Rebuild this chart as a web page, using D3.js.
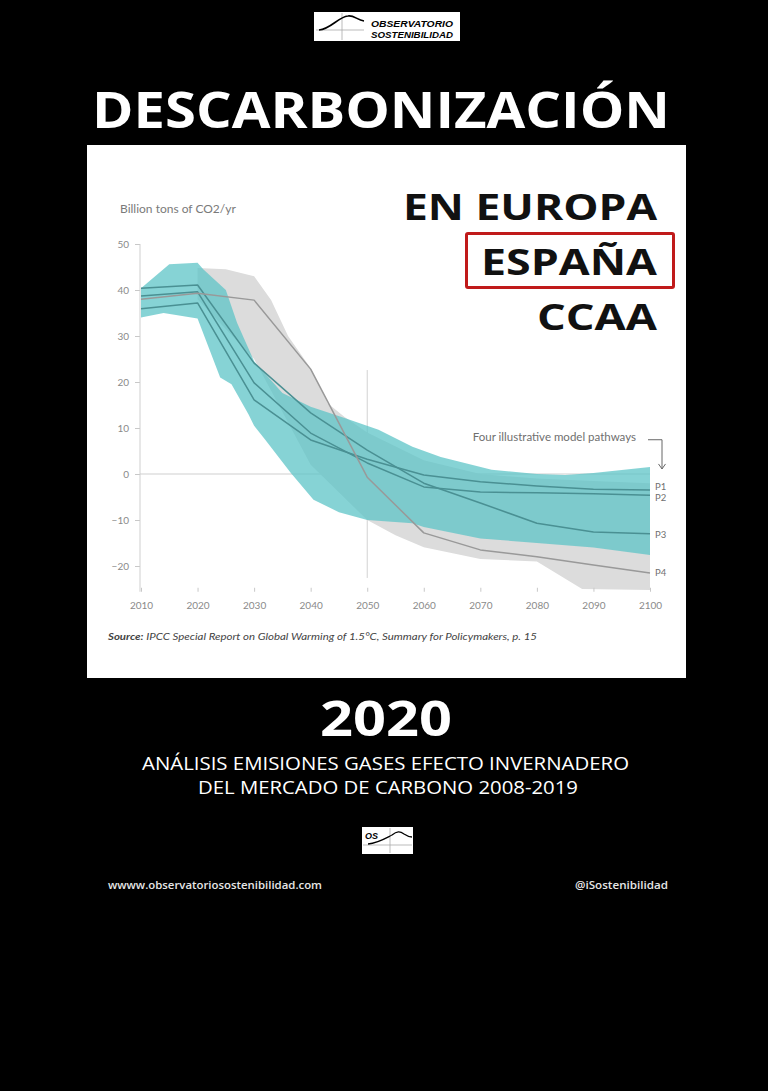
<!DOCTYPE html>
<html>
<head>
<meta charset="utf-8">
<script src="https://cdn.jsdelivr.net/npm/d3@7"></script>
<style>
  html, body { margin: 0; padding: 0; background: #000; }
  svg { display: block; }
</style>
</head>
<body>
<svg id="c" width="768" height="1091"></svg>
<script>
// ---------- DATA ----------
const xTickYears = [2010, 2020, 2030, 2040, 2050, 2060, 2070, 2080, 2090, 2100];
const yTickValues = [50, 40, 30, 20, 10, 0, -10, -20];

const pathwayYears = [2010, 2020, 2030, 2040, 2050, 2060, 2070, 2080, 2090, 2100];
const P1 = [35.9, 37.2, 16.1, 7.4, 3.2, -0.2, -1.7, -2.6, -3.3, -3.5];
const P2 = [38.7, 39.6, 19.8, 8.9, 2.4, -2.8, -3.9, -4.1, -4.3, -4.6];
const P3 = [40.4, 41.1, 24.1, 13.3, 5.2, -2.0, -6.3, -10.7, -12.6, -13.0];
const P4 = [38.0, 39.3, 37.8, 22.8, -0.7, -12.8, -16.5, -18.0, -19.8, -21.5];
const pathwayNames = ["P1", "P2", "P3", "P4"];

// teal range (pathways with no or limited overshoot)
const tealUpper = [[2010,40.4],[2015,45.6],[2020,45.9],[2021,44.5],[2025,40],[2027,32.8],[2030,24.5],[2035,17.6],[2040,14.6],[2046,12.2],[2052,9.6],[2058,5.9],[2063,3.7],[2072,0.9],[2080,0],[2085,-0.2],[2090,0.2],[2100,1.5]];
const tealLower = [[2010,34],[2014,35],[2020,33.8],[2024,21],[2026,19.5],[2029,13],[2030,10.5],[2032,7.4],[2036.5,0.2],[2040.5,-5.6],[2045,-8.3],[2050,-10],[2058,-10.7],[2060,-11.5],[2070,-14],[2080,-15],[2090,-16],[2100,-17.6]];
// grey range (pathways with higher overshoot)
const greyUpper = [[2020,44.8],[2025,44.5],[2030,43],[2033,37.8],[2036,30],[2040,23],[2043,15.4],[2046,12.4],[2050,9],[2060,3],[2070,0],[2080,-1],[2090,-1.5],[2100,-2]];
const greyLower = [[2020,38],[2030,25],[2040,2],[2050,-10],[2055,-13.3],[2060,-15.9],[2070,-18.5],[2080,-19],[2088,-25],[2100,-25.2]];

// ---------- DRAW ----------
const svg = d3.select("#c");
svg.append("rect").attr("width", 768).attr("height", 1091).attr("fill", "#000");

// top logo
const logo = svg.append("g");
logo.append("rect").attr("x", 314).attr("y", 12).attr("width", 146).attr("height", 29).attr("fill", "#fff");
logo.append("line").attr("x1", 342).attr("x2", 342).attr("y1", 13).attr("y2", 40).attr("stroke", "#aaa").attr("stroke-width", 0.8);
logo.append("line").attr("x1", 316).attr("x2", 364).attr("y1", 30).attr("y2", 30).attr("stroke", "#aaa").attr("stroke-width", 0.8);
logo.append("path").attr("d", "M319,30 C331,29 338,17 348,16 C354,15 357,20 364,21").attr("fill", "none").attr("stroke", "#000").attr("stroke-width", 1.6);
logo.append("text").attr("x", 371).attr("y", 27).attr("textLength", 82).attr("lengthAdjust", "spacingAndGlyphs")
  .attr("font-family", "Liberation Sans, Arial").attr("font-weight", 700).attr("font-style", "italic").attr("font-size", 9.5).attr("fill", "#000").text("OBSERVATORIO");
logo.append("text").attr("x", 371).attr("y", 37.5).attr("textLength", 82).attr("lengthAdjust", "spacingAndGlyphs")
  .attr("font-family", "Liberation Sans, Arial").attr("font-weight", 700).attr("font-style", "italic").attr("font-size", 9.5).attr("fill", "#000").text("SOSTENIBILIDAD");

// main title
svg.append("text").attr("x", 92).attr("y", 128).attr("textLength", 578).attr("lengthAdjust", "spacingAndGlyphs")
  .attr("font-family", "Open Sans").attr("font-weight", 700).attr("font-size", 50).attr("fill", "#fff").text("DESCARBONIZACIÓN");

// white panel
svg.append("rect").attr("x", 87).attr("y", 145).attr("width", 599).attr("height", 533).attr("fill", "#fff");

const x = d3.scaleLinear().domain([2010, 2100]).range([141, 650]);
const y = d3.scaleLinear().domain([-20, 50]).range([566, 244]);
const axisX = 140;
const yAxisBottom = -25.6;

const chart = svg.append("g");

// reference lines (under bands)
chart.append("line").attr("x1", axisX).attr("x2", x(2100)).attr("y1", y(0)).attr("y2", y(0)).attr("stroke", "#cfcfcf").attr("stroke-width", 1.2);
chart.append("line").attr("x1", x(2050)).attr("x2", x(2050)).attr("y1", y(22.6)).attr("y2", y(-22.6)).attr("stroke", "#d2d2d2").attr("stroke-width", 1);

// bands
const ln = d3.line().x(d => x(d[0])).y(d => y(d[1]));
function band(upper, lower) { return ln(upper.concat(lower.slice().reverse())) + "Z"; }
chart.append("path").attr("d", band(greyUpper, greyLower)).attr("fill", "#dcdcdc");
chart.append("path").attr("d", band(tealUpper, tealLower)).attr("fill", "rgb(92,195,198)").attr("fill-opacity", 0.74);

// pathway lines
const series = [P1, P2, P3, P4];
const lineColors = ["#4a9093", "#4a9093", "#4a9093", "#999999"];
const pl = d3.line().x((d, i) => x(pathwayYears[i])).y(d => y(d));
series.forEach((s, k) => {
  chart.append("path").attr("d", pl(s)).attr("fill", "none").attr("stroke", lineColors[k]).attr("stroke-width", 1.5).attr("stroke-linejoin", "round");
});

// y axis
const yAx = d3.axisLeft(y).tickValues(yTickValues).tickSize(5).tickPadding(6).tickFormat(d3.format("d"));
const gy = chart.append("g").attr("transform", `translate(${axisX},0)`).call(yAx);
gy.select(".domain").remove();
gy.selectAll("line").attr("stroke", "#c8c8c8");
gy.selectAll("text").attr("fill", "#8a8a8a").attr("font-family", "Lato").attr("font-size", 10);
chart.append("line").attr("x1", axisX).attr("x2", axisX).attr("y1", y(50)).attr("y2", y(yAxisBottom)).attr("stroke", "#cfcfcf").attr("stroke-width", 1);

// x axis
const xAx = d3.axisBottom(x).tickValues(xTickYears).tickSize(4).tickPadding(10).tickFormat(d3.format("d"));
const gx = chart.append("g").attr("transform", `translate(0,${y(yAxisBottom) - 4})`).call(xAx);
gx.select(".domain").remove();
gx.selectAll("line").attr("stroke", "#c8c8c8");
gx.selectAll("text").attr("fill", "#8a8a8a").attr("font-family", "Lato").attr("font-size", 10);

// axis title
chart.append("text").attr("x", 120).attr("y", 213).attr("font-family", "Lato").attr("font-size", 12).attr("fill", "#7a7a7a").text("Billion tons of CO2/yr");

// pathway labels
const labelOffsets = [-3.5, 2.5, 0.5, 0];
series.forEach((s, k) => {
  chart.append("text").attr("x", x(2100) + 5).attr("y", y(s[s.length - 1]) + labelOffsets[k]).attr("dy", "0.35em")
    .attr("font-family", "Lato").attr("font-size", 9.5).attr("fill", "#6f6f6f").text(pathwayNames[k]);
});

// annotation
const annY = y(8.1);
chart.append("text").attr("x", 636).attr("y", annY).attr("dy", "0.35em").attr("text-anchor", "end")
  .attr("font-family", "Lato").attr("font-size", 11.5).attr("fill", "#6f6f6f").text("Four illustrative model pathways");
const axr = x(2100) + 12;
chart.append("path").attr("d", `M${x(2100) - 2},${annY + 3} H${axr} V${y(1.1)}`).attr("fill", "none").attr("stroke", "#666").attr("stroke-width", 1);
chart.append("path").attr("d", `M${axr - 3.5},${y(1.1) - 5} L${axr},${y(1.1)} L${axr + 3.5},${y(1.1) - 5}`).attr("fill", "none").attr("stroke", "#666").attr("stroke-width", 1);

// source
const src = chart.append("text").attr("x", 108).attr("y", 640).attr("textLength", 429).attr("lengthAdjust", "spacingAndGlyphs")
  .attr("font-family", "Lato").attr("font-size", 10).attr("fill", "#444").attr("font-style", "italic");
src.append("tspan").attr("font-weight", 700).text("Source:");
src.append("tspan").text(" IPCC Special Report on Global Warming of 1.5°C, Summary for Policymakers, p. 15");

// overlay headings
const heads = [
  { t: "EN EUROPA", x0: 403, x1: 657, yb: 220 },
  { t: "ESPAÑA", x0: 481, x1: 657, yb: 275 },
  { t: "CCAA", x0: 537, x1: 657, yb: 330 }
];
heads.forEach(h => {
  svg.append("text").attr("x", h.x0).attr("y", h.yb).attr("textLength", h.x1 - h.x0).attr("lengthAdjust", "spacingAndGlyphs")
    .attr("font-family", "Open Sans").attr("font-weight", 700).attr("font-size", 36).attr("fill", "#111").text(h.t);
});
svg.append("rect").attr("x", 466.5).attr("y", 233.5).attr("width", 207).attr("height", 54).attr("fill", "none").attr("stroke", "#c01a1a").attr("stroke-width", 3).attr("rx", 1.5);

// 2020 and subtitle
svg.append("text").attr("x", 320).attr("y", 736).attr("textLength", 132).attr("lengthAdjust", "spacingAndGlyphs")
  .attr("font-family", "Open Sans").attr("font-weight", 700).attr("font-size", 48).attr("fill", "#fff").text("2020");
svg.append("text").attr("x", 142).attr("y", 770).attr("textLength", 487).attr("lengthAdjust", "spacingAndGlyphs")
  .attr("font-family", "Open Sans").attr("font-size", 17.5).attr("fill", "#fff").text("ANÁLISIS EMISIONES GASES EFECTO INVERNADERO");
svg.append("text").attr("x", 198).attr("y", 794).attr("textLength", 380).attr("lengthAdjust", "spacingAndGlyphs")
  .attr("font-family", "Open Sans").attr("font-size", 17.5).attr("fill", "#fff").text("DEL MERCADO DE CARBONO 2008-2019");

// bottom logo
const bl = svg.append("g");
bl.append("rect").attr("x", 362).attr("y", 827).attr("width", 51).attr("height", 27).attr("fill", "#fff");
bl.append("line").attr("x1", 390).attr("x2", 390).attr("y1", 828).attr("y2", 853).attr("stroke", "#aaa").attr("stroke-width", 0.8);
bl.append("line").attr("x1", 363).attr("x2", 412).attr("y1", 845).attr("y2", 845).attr("stroke", "#aaa").attr("stroke-width", 0.8);
bl.append("path").attr("d", "M368,844 C378,843 386,838 392,835 C397,831 400,831 404,834 C407,836 409,837 412,837").attr("fill", "none").attr("stroke", "#000").attr("stroke-width", 1.3);
bl.append("text").attr("x", 365).attr("y", 839).attr("font-family", "Liberation Sans, Arial").attr("font-weight", 700).attr("font-style", "italic").attr("font-size", 9).attr("fill", "#000").text("OS");

// footer
svg.append("text").attr("x", 108).attr("y", 889).attr("textLength", 214).attr("lengthAdjust", "spacingAndGlyphs")
  .attr("font-family", "Open Sans").attr("font-weight", 600).attr("font-size", 11).attr("fill", "#e6e6e6").text("wwww.observatoriosostenibilidad.com");
svg.append("text").attr("x", 668).attr("y", 889).attr("text-anchor", "end").attr("textLength", 93).attr("lengthAdjust", "spacingAndGlyphs")
  .attr("font-family", "Open Sans").attr("font-weight", 600).attr("font-size", 11).attr("fill", "#e6e6e6").text("@iSostenibilidad");
</script>
</body>
</html>
